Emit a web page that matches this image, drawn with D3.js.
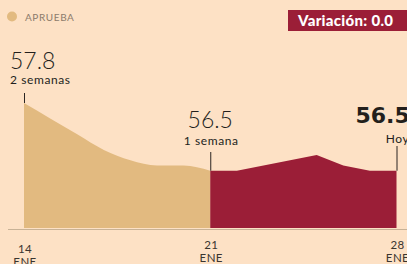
<!DOCTYPE html>
<html>
<head>
<meta charset="utf-8">
<script src="https://cdn.jsdelivr.net/npm/d3@7"></script>
<style>
  html, body { margin: 0; padding: 0; background: #fde1c5; }
  svg { display: block; font-family: "Lato", "Open Sans", sans-serif; }
</style>
</head>
<body>
<svg id="chart" width="407" height="264"></svg>
<script>
// data
const days = [14, 15, 16, 17, 18, 19, 20, 21, 22, 23, 24, 25, 26, 27, 28];
const values = [57.8, 57.5, 57.2, 56.9, 56.7, 56.6, 56.6, 56.5, 56.5, 56.6, 56.7, 56.8, 56.6, 56.5, 56.5];
const tickDays = [14, 21, 28];
const tickMonth = "ENE";
const seriesName = "APRUEBA";
const variation = "Variación: 0.0";
const callouts = [
  { day: 14, value: "57.8", note: "2 semanas" },
  { day: 21, value: "56.5", note: "1 semana" },
  { day: 28, value: "56.5", note: "Hoy" }
];

const svg = d3.select("#chart");
const width = +svg.attr("width");

const x = d3.scaleLinear().domain([14, 28]).range([24, 396.5]);
const y = d3.scaleLinear().domain([55.4, 57.8]).range([228, 103]);

const points = days.map((d, i) => ({ day: d, value: values[i] }));
const makeArea = curve => d3.area()
  .curve(curve)
  .x(d => x(d.day))
  .y0(y(55.4))
  .y1(d => y(d.value));

// earlier week (tan), latest week (red)
svg.append("path")
  .datum(points.filter(p => p.day <= 21))
  .attr("fill", "#e2ba80")
  .attr("d", makeArea(d3.curveMonotoneX));

svg.append("path")
  .datum(points.filter(p => p.day >= 21))
  .attr("fill", "#9b1e37")
  .attr("d", makeArea(d3.curveLinear));

// axis baseline
svg.append("line")
  .attr("x1", 8).attr("x2", width)
  .attr("y1", 229.5).attr("y2", 229.5)
  .attr("stroke", "#c8b296")
  .attr("stroke-width", 1);

// tick labels
const ticks = svg.append("g")
  .selectAll("text")
  .data(tickDays)
  .enter()
  .append("text")
  .attr("x", d => x(d) + 1)
  .attr("y", (d, i) => i === 0 ? 253 : 249)
  .attr("text-anchor", "middle")
  .attr("font-size", "11.5px")
  .attr("letter-spacing", "0.4px")
  .attr("fill", "#3a3530");
ticks.append("tspan").text(d => d);
ticks.append("tspan")
  .attr("x", d => x(d) + 1)
  .attr("dy", 13)
  .text(tickMonth);

// callouts
const cx = [
  c => x(c.day) - 14,
  c => x(c.day),
  c => x(c.day) - 41
];
const anchor = ["start", "middle", "start"];
const valueY = [69, 128, 123];
const noteY = [84, 145, 143];
const lineTop = [93, 152, 146];

callouts.forEach((c, i) => {
  svg.append("line")
    .attr("x1", x(c.day) + 0.5).attr("x2", x(c.day) + 0.5)
    .attr("y1", lineTop[i]).attr("y2", y(values[days.indexOf(c.day)]))
    .attr("stroke", "#2b2522")
    .attr("stroke-width", 1);

  svg.append("text")
    .attr("x", cx[i](c))
    .attr("y", valueY[i])
    .attr("text-anchor", anchor[i])
    .attr("font-size", i === 2 ? "22px" : "23px")
    .attr("font-family", i === 2 ? "DejaVu Sans, sans-serif" : null)
    .attr("font-weight", i === 2 ? 700 : 300)
    .attr("fill", "#231f1c")
    .text(c.value);

  svg.append("text")
    .attr("x", i === 0 ? x(c.day) - 14 : x(c.day) + 1)
    .attr("y", noteY[i])
    .attr("text-anchor", i === 0 ? "start" : "middle")
    .attr("font-size", "12px")
    .attr("letter-spacing", "0.6px")
    .attr("fill", "#231f1c")
    .text(c.note);
});

// legend
svg.append("circle")
  .attr("cx", 12).attr("cy", 16.5).attr("r", 5)
  .attr("fill", "#e2ba80");
svg.append("text")
  .attr("x", 25).attr("y", 21)
  .attr("font-size", "10px")
  .attr("letter-spacing", "0.6px")
  .attr("fill", "#8c7b6b")
  .text(seriesName);

// variation badge
svg.append("rect")
  .attr("x", 288).attr("y", 10)
  .attr("width", 122).attr("height", 21)
  .attr("fill", "#9b1e37");
svg.append("text")
  .attr("x", 298).attr("y", 26)
  .attr("font-size", "15px")
  .attr("font-weight", 900)
  .attr("letter-spacing", "0.3px")
  .attr("fill", "#ffffff")
  .text(variation);
</script>
</body>
</html>
